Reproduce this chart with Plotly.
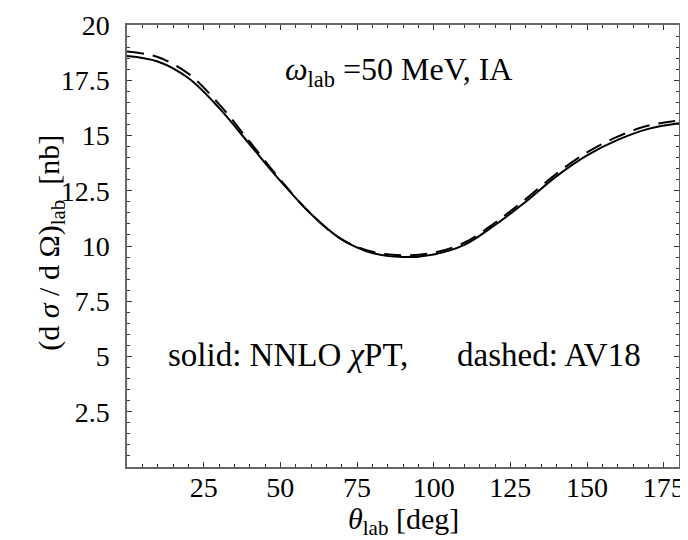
import plotly.graph_objects as go

theta = [0, 10, 20, 30, 40, 50, 60, 70, 80, 90, 100, 110, 120, 130, 140, 150, 160, 170, 180]
solid_nnlo = [18.6, 18.35, 17.6, 16.25, 14.6, 12.95, 11.45, 10.3, 9.68, 9.5, 9.62, 10.05, 10.95, 12.0, 13.15, 14.1, 14.8, 15.3, 15.55]
dashed_av18 = [18.8, 18.55, 17.8, 16.42, 14.72, 13.0, 11.45, 10.3, 9.74, 9.58, 9.7, 10.15, 11.05, 12.12, 13.27, 14.24, 14.95, 15.45, 15.68]

x_ticks = [25, 50, 75, 100, 125, 150, 175]
y_ticks = [2.5, 5, 7.5, 10, 12.5, 15, 17.5, 20]
y_tick_labels = ["2.5", "5", "7.5", "10", "12.5", "15", "17.5", "20"]

FONT = "Liberation Serif, Times New Roman, serif"

# page has an 8px body margin, so figure is offset by 8px
PX_LEFT, PX_RIGHT = 127, 679   # plot area in window pixels
def px_to_x(px):
    return (px - PX_LEFT) / (PX_RIGHT - PX_LEFT) * 180

fig = go.Figure()
fig.add_trace(go.Scatter(x=theta, y=dashed_av18, mode="lines", line_shape="spline",
                         line=dict(color="black", width=2, dash="17px,9px"), showlegend=False))
fig.add_trace(go.Scatter(x=theta, y=solid_nnlo, mode="lines", line_shape="spline",
                         line=dict(color="black", width=2), showlegend=False))

axis_common = dict(showgrid=False, zeroline=False, showline=True, linecolor="#666", linewidth=1.5,
                   mirror="allticks", ticks="inside", ticklen=5, tickwidth=1, tickcolor="#333",
                   automargin=False,
                   tickfont=dict(family=FONT, size=28, color="black"))

fig.update_xaxes(range=[0, 180], tickvals=x_ticks, ticklabelstandoff=-5,
                 minor=dict(dtick=5, tick0=0, ticks="inside", ticklen=3, tickcolor="#333"),
                 **axis_common)
fig.update_yaxes(range=[0, 20], tickvals=y_ticks, ticktext=y_tick_labels, ticklabelstandoff=10,
                 minor=dict(dtick=0.5, tick0=0, ticks="inside", ticklen=3, tickcolor="#333"),
                 **axis_common)

fig.update_layout(
    width=680, height=532,
    margin=dict(l=119, r=9, t=17, b=73),
    plot_bgcolor="white", paper_bgcolor="white",
    font=dict(family=FONT, size=30, color="black"),
    annotations=[
        dict(text="<i>ω</i><sub>lab</sub> =50 MeV, IA", x=px_to_x(398), y=17.9, xref="x", yref="y",
             showarrow=False, font=dict(size=32)),
        dict(text="solid: NNLO <i>χ</i>PT,", x=px_to_x(166), y=5.05, xref="x", yref="y", xanchor="left",
             showarrow=False, font=dict(size=33)),
        dict(text="dashed: AV18", x=px_to_x(455), y=5.05, xref="x", yref="y", xanchor="left",
             showarrow=False, font=dict(size=33)),
        dict(text="<i>θ</i><sub>lab</sub> [deg]", x=0.5, y=-0.122, xref="paper", yref="paper",
             yanchor="middle", showarrow=False, font=dict(size=30)),
        dict(text="(d <i>σ</i> / d Ω)<sub>lab</sub>&nbsp; [nb]", x=-0.176, y=0.507, xref="paper", yref="paper",
             textangle=-90, showarrow=False, font=dict(size=30)),
    ],
)

fig.write_html("out.html")
